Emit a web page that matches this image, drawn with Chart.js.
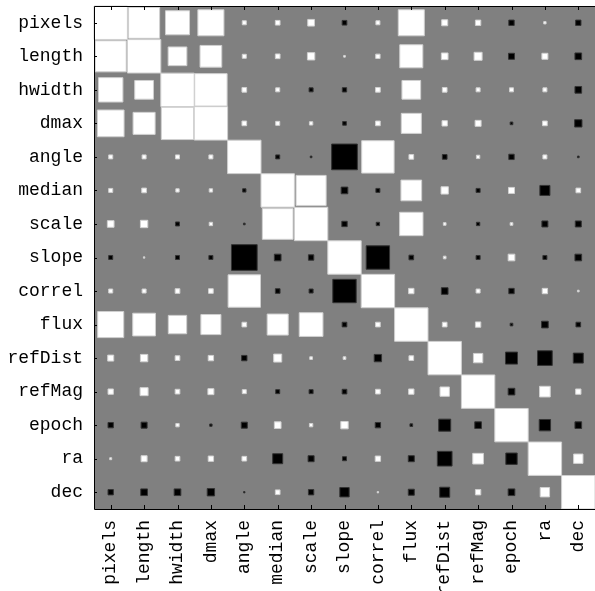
<!DOCTYPE html>
<html>
<head>
    <title>Hinton diagram</title>
    <script src="https://cdn.jsdelivr.net/npm/chart.js"></script>
    <style>
        body {margin: 0; background: #fff; overflow: hidden;}
        #chart {display: block;}
    </style>
</head>
<body>
<canvas id="chart" width="595" height="591"></canvas>
<script>
    var names = ['pixels', 'length', 'hwidth', 'dmax', 'angle', 'median', 'scale', 'slope',
                 'correl', 'flux', 'refDist', 'refMag', 'epoch', 'ra', 'dec'];

    // one row per variable, same order as names (white = positive, black = negative)
    var values = [
        [1, .93, .72, .78, .12, .14, .2, -.14, .12, .78, .18, .16, -.16, .07, -.16],
        [.93, 1, .56, .65, .12, .14, .22, .05, .13, .69, .2, .24, -.18, .18, -.2],
        [.73, .56, 1, .97, .14, .12, -.12, -.13, .14, .56, .14, .12, .12, .12, -.2],
        [.8, .66, .97, 1, .14, .12, .1, -.11, .14, .6, .16, .18, -.08, .14, -.22],
        [.12, .12, .12, .12, 1, -.12, -.05, -.77, .97, .14, -.14, .1, -.16, .12, -.05],
        [.12, .14, .1, .1, -.1, 1, .9, -.2, -.12, .62, .22, -.12, .18, -.3, .14],
        [.2, .22, -.12, .1, -.05, .92, 1, -.16, -.1, .7, .08, -.1, .08, -.18, -.18],
        [-.12, .04, -.12, -.12, -.77, -.2, -.16, 1, -.7, -.14, .08, -.12, .2, -.12, -.2],
        [.12, .12, .14, .14, .97, -.14, -.12, -.7, 1, .16, -.2, .12, -.16, .16, .05],
        [.78, .68, .55, .6, .14, .63, .71, -.14, .14, 1, .14, .16, -.08, -.2, -.14],
        [.18, .22, .14, .16, -.16, .24, .08, .08, -.22, .14, 1, .28, -.36, -.44, -.3],
        [.16, .24, .14, .18, .12, -.12, -.12, -.14, .14, .16, .28, 1, -.2, .32, .16],
        [-.16, -.18, .1, -.07, -.18, .2, .1, .22, -.16, -.08, -.36, -.2, 1, -.34, -.2],
        [.06, .18, .14, .16, .14, -.3, -.18, -.12, .16, -.18, -.44, .32, -.34, 1, .28],
        [-.16, -.2, -.2, -.22, -.04, .14, -.16, -.28, .04, -.18, -.3, .16, -.2, .28, 1]
    ];

    var labelFont = {family: "'Courier New', 'Liberation Mono', monospace", size: 18};

    var points = [];
    values.forEach(function(row, i) {
        row.forEach(function(v, j) {
            points.push({x: names[j], y: names[i], v: v});
        });
    });

    function cellSize(chart) {
        var xs = chart.scales.x, ys = chart.scales.y;
        return Math.min(xs.width, ys.height) / names.length;
    }

    // gray plot background, axis frame and inward ticks
    var frame = {
        id: 'frame',
        beforeDatasetsDraw: function(chart) {
            var a = chart.chartArea, ctx = chart.ctx;
            ctx.save();
            ctx.fillStyle = '#808080';
            ctx.fillRect(a.left, a.top, a.right - a.left, a.bottom - a.top);
            ctx.restore();
        },
        afterDraw: function(chart) {
            var a = chart.chartArea, ctx = chart.ctx;
            ctx.save();
            ctx.strokeStyle = '#000';
            ctx.lineWidth = 1;
            ctx.beginPath();
            ctx.moveTo(a.right, a.top + 0.5);
            ctx.lineTo(a.left + 0.5, a.top + 0.5);
            ctx.lineTo(a.left + 0.5, a.bottom + 0.5);
            ctx.lineTo(a.right, a.bottom + 0.5);
            names.forEach(function(n, i) {
                var x = Math.round(chart.scales.x.getPixelForValue(i)) + 0.5;
                ctx.moveTo(x, a.top);
                ctx.lineTo(x, a.top + 4);
                ctx.moveTo(x, a.bottom);
                ctx.lineTo(x, a.bottom - 4);
                var y = Math.round(chart.scales.y.getPixelForValue(i)) + 0.5;
                ctx.moveTo(a.left, y);
                ctx.lineTo(a.left + 3, y);
            });
            ctx.stroke();
            ctx.restore();
        }
    };

    var ctx = document.getElementById('chart').getContext('2d');
    var chart = new Chart(ctx, {
        type: 'scatter',
        data: {
            datasets: [{
                data: points,
                pointStyle: 'rect',
                pointRadius: function(c) {
                    if (!c.raw) return 0;
                    return Math.abs(c.raw.v) * cellSize(c.chart) / Math.SQRT2;
                },
                backgroundColor: function(c) {
                    return c.raw && c.raw.v < 0 ? '#000' : '#fff';
                },
                borderColor: function(c) {
                    return c.raw && c.raw.v < 0 ? '#333' : '#d0d0d0';
                },
                borderWidth: 1
            }]
        },
        options: {
            responsive: false,
            animation: false,
            events: [],
            layout: {padding: {top: 6, right: 0, left: 0, bottom: 0}},
            plugins: {
                legend: {display: false},
                tooltip: {enabled: false}
            },
            scales: {
                x: {
                    type: 'category',
                    labels: names,
                    offset: true,
                    position: 'bottom',
                    grid: {display: false, drawTicks: false},
                    border: {display: false},
                    ticks: {autoSkip: false, minRotation: 90, maxRotation: 90, padding: 11, color: '#000', font: labelFont},
                    afterFit: function(s) { s.height = 82; s.paddingLeft = 0; s.paddingRight = 0; }
                },
                y: {
                    type: 'category',
                    labels: names,
                    offset: true,
                    grid: {display: false, drawTicks: false},
                    border: {display: false},
                    ticks: {autoSkip: false, padding: 11, color: '#000', font: labelFont},
                    afterFit: function(s) { s.width = 94; s.paddingTop = 0; s.paddingBottom = 0; }
                }
            }
        },
        plugins: [frame]
    });
</script>
</body>
</html>
